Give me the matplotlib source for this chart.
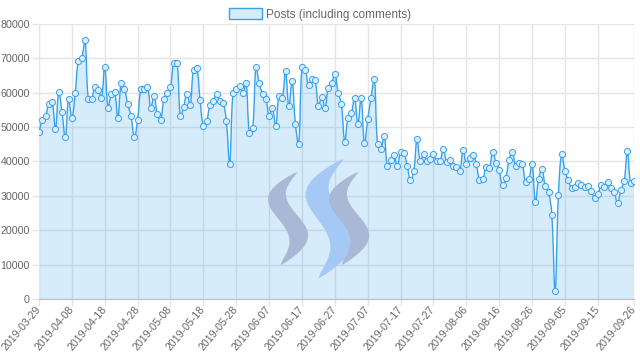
import numpy as np
import pandas as pd
import matplotlib
matplotlib.use("Agg")
import matplotlib.pyplot as plt
from matplotlib.path import Path
from matplotlib.patches import PathPatch, Patch, Polygon

plt.rcParams["font.family"] = ["Liberation Sans", "DejaVu Sans"]

# daily posts, 2019-03-29 .. 2019-09-26
dates = pd.date_range("2019-03-29", "2019-09-26", freq="D").strftime("%Y-%m-%d").tolist()
posts = [
    48700, 52000, 53300, 56700, 57200, 49400, 60100, 54300, 47000, 58200,
    52600, 59800, 69300, 70100, 75300, 58200, 58200, 61800, 60800, 58500,
    67600, 55700, 59500, 60200, 52600, 62700, 61200, 56600, 53200, 47000,
    52100, 61100, 61200, 61800, 55500, 59100, 53700, 52200, 58200, 60000,
    61800, 68600, 68600, 53200, 55900, 59700, 56500, 66700, 67300, 57900,
    50300, 51800, 56300, 57700, 59500, 57700, 57100, 51700, 39200, 59800,
    61000, 62000, 60000, 62700, 48400, 49600, 67400, 62700, 59600, 58300,
    53300, 55600, 50200, 59000, 58500, 66200, 56100, 63400, 50900, 45200,
    67400, 66600, 62200, 63900, 63600, 56100, 58800, 55600, 61500, 62800,
    65400, 60000, 56600, 45800, 52700, 54000, 58500, 50800, 58500, 45300,
    52300, 58500, 64000, 45000, 43700, 47500, 38600, 40500, 41800, 38600,
    42700, 42400, 38700, 34700, 37300, 46400, 40200, 42100, 40100, 40800,
    42100, 40000, 40100, 43700, 39900, 40500, 38800, 38500, 37100, 43400,
    39300, 40900, 41900, 39400, 34700, 34800, 38400, 38000, 42800, 39700,
    37400, 33100, 35300, 40300, 42900, 38800, 39700, 39300, 34100, 34900,
    39400, 28300, 35000, 37700, 33000, 31100, 24500, 2300, 30300, 42100,
    37200, 34500, 32400, 32600, 33800, 33200, 32700, 33000, 31500, 29500,
    30400, 33100, 32500, 33900, 32200, 31000, 27800, 31800, 34200, 43000,
    33600, 34300,
]
yticks = list(range(0, 80001, 10000))
tick_idx = list(range(0, 171, 10)) + [len(dates) - 1]

line_c = (54/255, 162/255, 235/255)
fill_c = (54/255, 162/255, 235/255, 0.2)
text_c = "#666666"
grid_c = "#e5e5e5"

W, H = 640, 361
fig = plt.figure(figsize=(W/100, H/100), dpi=100)
L, R, T, B = 39, 634, 24, 299
ax = fig.add_axes([L/W, 1 - B/H, (R - L)/W, (B - T)/H])
ax.set_xlim(0, len(dates) - 1)
ax.set_ylim(0, 80000)

# chart.js style bezier curve (tension 0.4) through the points
x = np.arange(len(posts))
y = np.array(posts, dtype=float)
pts = ax.transData.transform(np.column_stack([x, y]))
n = len(pts)
cp_prev = np.zeros_like(pts)
cp_next = np.zeros_like(pts)
for i in range(n):
    prv = pts[i - 1] if i > 0 else pts[i]
    nxt = pts[i + 1] if i < n - 1 else pts[i]
    d01 = np.hypot(*(pts[i] - prv))
    d12 = np.hypot(*(nxt - pts[i]))
    tot = d01 + d12
    s01 = d01 / tot if tot else 0
    s12 = d12 / tot if tot else 0
    cp_prev[i] = pts[i] - 0.4 * s01 * (nxt - prv)
    cp_next[i] = pts[i] + 0.4 * s12 * (nxt - prv)
verts = [pts[0]]
codes = [Path.MOVETO]
for i in range(1, n):
    verts += [cp_next[i - 1], cp_prev[i], pts[i]]
    codes += [Path.CURVE4] * 3
verts = ax.transData.inverted().transform(np.array(verts))

line_path = Path(verts, codes)
fill_verts = np.vstack([verts, [[x[-1], 0], [x[0], 0], verts[0]]])
fill_codes = codes + [Path.LINETO, Path.LINETO, Path.CLOSEPOLY]
ax.add_patch(PathPatch(Path(fill_verts, fill_codes), facecolor=fill_c,
                       edgecolor="none", zorder=1))

# steem watermark
def stroke(xt, yt, xb, yb, amp, wid, color):
    t = np.linspace(0, 1, 80)
    cy = yt + (yb - yt) * t
    cx = xt + (xb - xt) * t - amp * np.sin(2 * np.pi * t) * (1 - 0.3 * t)
    w = wid * np.sin(np.pi * t) ** 0.7
    px = np.concatenate([cx - w, (cx + w)[::-1]])
    py = np.concatenate([cy, cy[::-1]])
    fx = (px - L) / (R - L)
    fy = (B - py) / (B - T)
    ax.add_patch(Polygon(np.column_stack([fx, fy]), closed=True,
                         transform=ax.transAxes, facecolor=color,
                         edgecolor="none", zorder=2))

stroke(297, 172, 281, 265, 17, 11, "#a9b8d4")
stroke(343, 159, 319, 278, 21, 14, "#a5c9f4")
stroke(358, 172, 342, 265, 17, 11, "#a9b8d4")

ax.add_patch(PathPatch(line_path, facecolor="none", edgecolor=line_c,
                       lw=1.0, zorder=3))
ax.plot(x, y, ls="none", marker="o", ms=4.4, mfc=(0.86, 0.93, 0.99),
        mec=line_c, mew=0.7, zorder=4)

ax.set_yticks(yticks)
ax.set_yticklabels([str(v) for v in yticks])
ax.set_xticks(tick_idx)
ax.set_xticklabels([dates[i] for i in tick_idx], rotation=50, ha="right",
                   va="center", rotation_mode="anchor")
ax.tick_params(axis="both", colors=grid_c, labelcolor=text_c, length=5,
               width=1, labelsize=7.7)
ax.tick_params(axis="y", pad=1.5)
ax.tick_params(axis="x", pad=1)
ax.grid(True, color=grid_c, lw=1)
ax.set_axisbelow(True)
for s in ["top", "right"]:
    ax.spines[s].set_visible(False)
ax.spines["left"].set_color(grid_c)
ax.spines["bottom"].set_color("#bfbfbf")

fig.legend(handles=[Patch(facecolor=fill_c, edgecolor=line_c, lw=1)],
           labels=["Posts (including comments)"], loc="upper center",
           bbox_to_anchor=(0.5, 1.0), frameon=False, fontsize=8.5,
           handlelength=2.8, handleheight=1.0, labelcolor=text_c,
           borderaxespad=0.3, handletextpad=0.4)

fig.savefig("out.png", dpi=100)
